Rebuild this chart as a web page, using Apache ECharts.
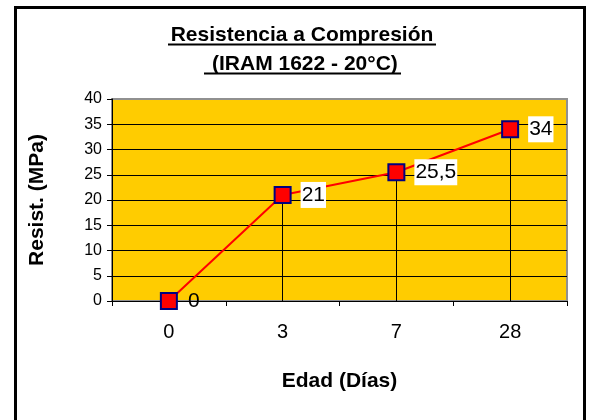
<!DOCTYPE html>
<html>
<head>
<meta charset="utf-8">
<script src="https://cdn.jsdelivr.net/npm/echarts@6/dist/echarts.min.js"></script>
<style>
  html, body { margin: 0; padding: 0; background: #fff; }
  #chart { width: 593px; height: 420px; }
</style>
</head>
<body>
<div id="chart"></div>
<script>
// edad (días) vs resistencia
const categories = ['0', '3', '7', '28']
const resistValues = [0, 21, 25.5, 34]
const yTicks = { min: 0, max: 40, interval: 5 }

const chart = echarts.init(document.getElementById('chart'))

// drop lines from each point down to the axis
const dropLines = resistValues.map((v, i) => [
  { coord: [i, 0] },
  { coord: [i, v] }
])

// the zero label sits on the axis, without the white box
const pointData = resistValues.map(v => v === 0
  ? { value: v, label: { backgroundColor: 'transparent' } }
  : v)

const font = 'Liberation Sans, Arial'

const option = {
  animation: false,
  backgroundColor: '#fff',
  graphic: [
    {
      type: 'rect',
      shape: { x: 15.5, y: 7.5, width: 569, height: 430 },
      style: { fill: 'none', stroke: '#000', lineWidth: 3 }
    },
    {
      type: 'line',
      shape: { x1: 168, y1: 44.5, x2: 436, y2: 44.5 },
      style: { stroke: '#000', lineWidth: 2 }
    },
    {
      type: 'line',
      shape: { x1: 204, y1: 73.5, x2: 401, y2: 73.5 },
      style: { stroke: '#000', lineWidth: 2 }
    }
  ],
  title: [
    {
      text: 'Resistencia a Compresión',
      left: 302,
      textAlign: 'center',
      top: 25,
      padding: 0,
      textStyle: { fontFamily: font, fontSize: 21, fontWeight: 'bold', color: '#000' }
    },
    {
      text: ' (IRAM 1622 - 20°C)',
      left: 302,
      textAlign: 'center',
      top: 54,
      padding: 0,
      textStyle: { fontFamily: font, fontSize: 21, fontWeight: 'bold', color: '#000' }
    }
  ],
  grid: {
    left: 112, right: 26, top: 99, bottom: 119,
    show: true,
    backgroundColor: '#ffcc00',
    borderColor: '#909090',
    borderWidth: 2
  },
  xAxis: {
    type: 'category',
    data: categories,
    boundaryGap: true,
    name: 'Edad (Días)',
    nameLocation: 'middle',
    nameGap: 70,
    nameTextStyle: { fontFamily: font, fontSize: 21, fontWeight: 'bold', color: '#000' },
    axisLine: { lineStyle: { color: '#000', width: 1 } },
    axisTick: { show: true, length: 5, inside: false, lineStyle: { color: '#000' } },
    axisLabel: { margin: 21, fontFamily: font, fontSize: 20, color: '#000' },
    splitLine: { show: false }
  },
  yAxis: {
    type: 'value',
    min: yTicks.min,
    max: yTicks.max,
    interval: yTicks.interval,
    name: 'Resist. (MPa)',
    nameLocation: 'middle',
    nameGap: 64,
    nameTextStyle: { fontFamily: font, fontSize: 21, fontWeight: 'bold', color: '#000' },
    axisLine: { show: true, lineStyle: { color: '#000', width: 1 } },
    axisTick: { show: true, length: 5, lineStyle: { color: '#000' } },
    axisLabel: { margin: 10, fontFamily: font, fontSize: 16, color: '#000' },
    splitLine: { show: true, showMinLine: false, showMaxLine: false, lineStyle: { color: '#000', width: 1 } }
  },
  series: [
    {
      type: 'line',
      data: pointData,
      symbol: 'rect',
      symbolSize: 16,
      itemStyle: { color: '#ff0000', borderColor: '#000080', borderWidth: 2 },
      lineStyle: { color: '#ff0000', width: 2 },
      label: {
        show: true,
        position: 'right',
        distance: 9,
        formatter: p => String(p.value).replace('.', ','),
        fontFamily: font,
        fontSize: 21,
        color: '#000',
        backgroundColor: '#fff',
        padding: [3, 1, 2, 1]
      },
      markLine: {
        silent: true,
        symbol: 'none',
        label: { show: false },
        lineStyle: { color: '#000', width: 1, type: 'solid' },
        data: dropLines,
        z: 1
      },
      z: 3
    }
  ]
}

chart.setOption(option)
</script>
</body>
</html>
